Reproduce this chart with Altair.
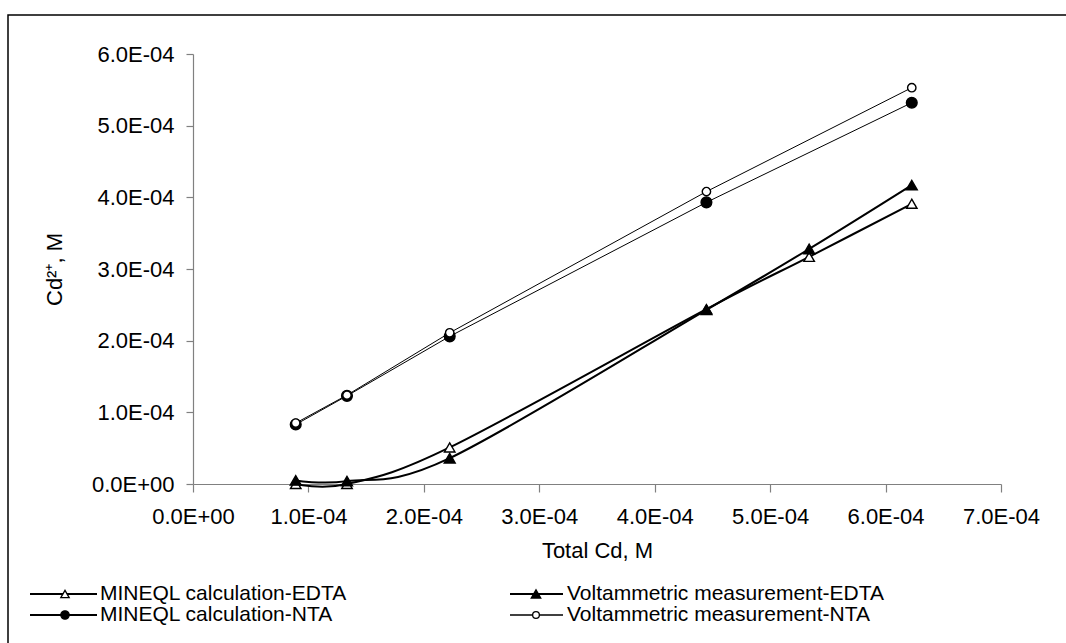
import altair as alt
import pandas as pd

FONT = "Liberation Sans"
FS = 22
LFS = 21

# Total Cd (M)
x_edta = [0.89e-4, 1.334e-4, 2.224e-4, 4.448e-4, 5.338e-4, 6.227e-4]
x_nta = [0.89e-4, 1.334e-4, 2.224e-4, 4.448e-4, 6.227e-4]

# Cd2+ (M)
mineql_edta = [0.0e-4, 0.0e-4, 0.51e-4, 2.44e-4, 3.17e-4, 3.91e-4]
volt_edta = [0.05e-4, 0.04e-4, 0.36e-4, 2.43e-4, 3.28e-4, 4.17e-4]
mineql_nta = [0.83e-4, 1.23e-4, 2.06e-4, 3.93e-4, 5.32e-4]
volt_nta = [0.85e-4, 1.24e-4, 2.11e-4, 4.08e-4, 5.53e-4]

labels = [
    "MINEQL calculation-EDTA",
    "Voltammetric measurement-EDTA",
    "MINEQL calculation-NTA",
    "Voltammetric measurement-NTA",
]

tick_vals_x = [0.0, 1e-4, 2e-4, 3e-4, 4e-4, 5e-4, 6e-4, 7e-4]
tick_vals_y = [0.0, 1e-4, 2e-4, 3e-4, 4e-4, 5e-4, 6e-4]

lab_expr = "datum.value == 0 ? '0.0E+00' : format(datum.value*10000, '.1f') + 'E-04'"

xscale = alt.Scale(domain=[0, 7e-4], nice=False, zero=True)
yscale = alt.Scale(domain=[0, 6e-4], nice=False, zero=True)

x_axis = alt.Axis(values=tick_vals_x, labelExpr=lab_expr, title="Total Cd, M",
                  grid=False, tickSize=8, labelPadding=14, titleX=404, titleY=66,
                  titleBaseline="middle", titleAlign="center",
                  labelOverlap=False, labelBound=False, labelFlush=False)
y_axis = alt.Axis(values=tick_vals_y, labelExpr=lab_expr, title="Cd²⁺, M",
                  grid=False, tickSize=7, labelPadding=12, titleX=-139, titleY=215,
                  titleAngle=270, titleBaseline="middle", titleAlign="center",
                  labelOverlap=False, labelBound=False, labelFlush=False)


def xenc():
    return alt.X("x:Q", scale=xscale, axis=x_axis)


def yenc():
    return alt.Y("y:Q", scale=yscale, axis=y_axis)


def series(xs, ys, shape, filled, size, sw, interp):
    d = pd.DataFrame({"x": xs, "y": ys})
    line = alt.Chart(d).mark_line(color="black", strokeWidth=sw, interpolate=interp,
                                  clip=False).encode(x=xenc(), y=yenc())
    pts = alt.Chart(d).mark_point(shape=shape, filled=True,
                                  fill="black" if filled else "white",
                                  stroke="black", strokeWidth=1.4, size=size,
                                  opacity=1, clip=False).encode(x=xenc(), y=yenc())
    return line, pts


l1, p1 = series(x_edta, mineql_edta, "triangle-up", False, 110, 2, "cardinal")
l2, p2 = series(x_edta, volt_edta, "triangle-up", True, 120, 2, "cardinal")
l3, p3 = series(x_nta, mineql_nta, "circle", True, 115, 1, "linear")
l4, p4 = series(x_nta, volt_nta, "circle", False, 70, 1, "linear")

dummy = pd.DataFrame({"k": [0]})

# legend entries (decorative, pixel placement relative to plot origin)
leg_specs = [
    (labels[0], "triangle-up", False, 70, 2, -163, -96, -128, -93, 540),
    (labels[1], "triangle-up", True, 90, 2, 317, 370, 343, 374, 540),
    (labels[2], "circle", True, 70, 2, -163, -96, -128, -93, 561),
    (labels[3], "circle", False, 45, 1.5, 317, 370, 343, 374, 561),
]
leg_layers = []
for lab, shp, fil, sz, lw, x0, x1, xm, xt, yy in leg_specs:
    leg_layers.append(alt.Chart(dummy).mark_rule(color="black", strokeWidth=lw).encode(
        x=alt.value(x0), x2=alt.value(x1), y=alt.value(yy)))
    leg_layers.append(alt.Chart(dummy).mark_point(
        shape=shp, filled=True, fill="black" if fil else "white", stroke="black",
        strokeWidth=1.3, size=sz, opacity=1).encode(x=alt.value(xm), y=alt.value(yy)))
    leg_layers.append(alt.Chart(dummy).mark_text(
        align="left", baseline="middle", font=FONT, fontSize=LFS, color="black").encode(
        x=alt.value(xt), y=alt.value(yy), text=alt.value(lab)))

frame = alt.Chart(dummy).mark_rect(fillOpacity=0, stroke="black", strokeWidth=1.5).encode(
    x=alt.value(-185), x2=alt.value(885), y=alt.value(-39), y2=alt.value(600))

chart = alt.layer(
    frame, l3, l4, l1, l2, p3, p4, p1, p2, *leg_layers
).properties(
    width=808, height=430,
    padding={"left": 193, "top": 54, "right": 65, "bottom": 159},
    autosize=alt.AutoSizeParams(type="none"),
    background="white",
).configure_view(stroke=None).configure_axis(
    labelFont=FONT, labelFontSize=FS, labelColor="black",
    titleFont=FONT, titleFontSize=FS, titleColor="black", titleFontWeight="normal",
    domainColor="#808080", tickColor="#808080", domainWidth=1.2, tickWidth=1.2,
)

chart.save("out.html", embed_options={"renderer": "svg", "actions": False})
